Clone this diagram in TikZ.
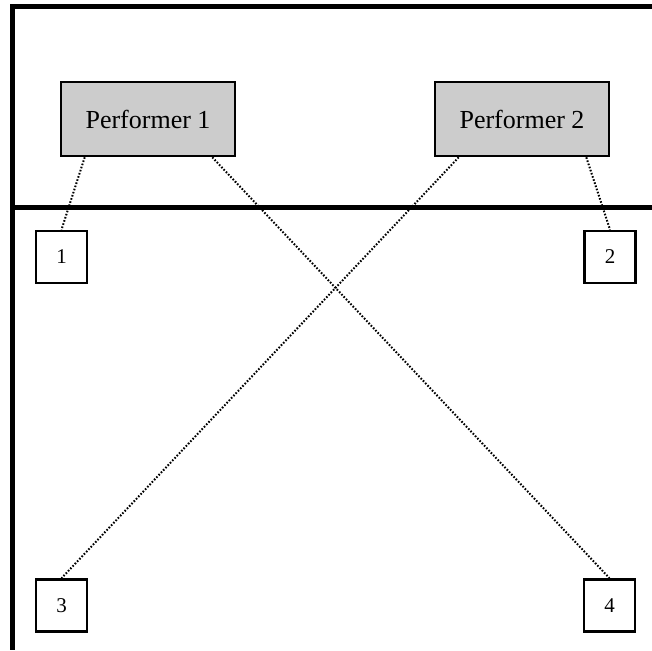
\documentclass[tikz,border=0pt]{standalone}
\usepackage{fontspec}
\setmainfont{Liberation Serif}
\begin{document}
\begin{tikzpicture}[x=1pt,y=-1pt,
  performer/.style={draw=black, line width=2.6pt, fill=black!20,
    minimum width=174pt, minimum height=74pt, inner sep=0pt,
    font=\fontsize{26}{30}\selectfont},
  slot/.style={draw=black, line width=2.6pt, fill=white,
    minimum width=51pt, minimum height=52pt, inner sep=0pt,
    font=\fontsize{21}{24}\selectfont},
  wall/.style={line width=5pt},
  link/.style={line width=2pt, dash pattern=on 1.6pt off 1.7pt}]
  \useasboundingbox (0,0) rectangle (652,650);
  % stage outline
  \draw[wall] (652,7) -- (12.5,7) -- (12.5,650);
  \draw[wall] (12.5,207) -- (652,207);
  % performers and numbered positions
  \path (148,119) node[performer] (p1) {Performer 1}
        (522,119) node[performer] (p2) {Performer 2}
        (61.5,257) node[slot] (b1) {1}
        (610,257) node[slot] (b2) {2}
        (61.5,605.5) node[slot] (b3) {3}
        (609.5,605.5) node[slot] (b4) {4};
  % dotted links from performers to positions
  \draw[link] ([xshift=25pt]p1.south west) -- (b1.north);
  \draw[link] ([xshift=-24pt]p1.south east) -- (b4.north);
  \draw[link] ([xshift=25pt]p2.south west) -- (b3.north);
  \draw[link] ([xshift=-24pt]p2.south east) -- (b2.north);
\end{tikzpicture}
\end{document}
